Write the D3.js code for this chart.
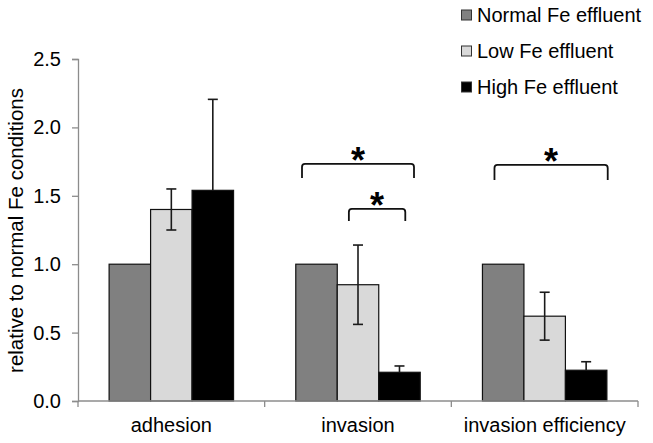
<!DOCTYPE html>
<html>
<head>
<meta charset="utf-8">
<script src="https://cdn.jsdelivr.net/npm/d3@7/dist/d3.min.js"></script>
<style>
  html, body { margin: 0; padding: 0; background: #fff; }
  svg { display: block; font-family: "Liberation Sans", Arial, sans-serif; }
</style>
</head>
<body>
<svg id="chart" width="653" height="443"></svg>
<script>
// ---- data ----
const categories = ["adhesion", "invasion", "invasion efficiency"];
const seriesNames = ["Normal Fe effluent", "Low Fe effluent", "High Fe effluent"];
const normalValues = [1.0, 1.0, 1.0];
const lowValues = [1.40, 0.85, 0.62];
const highValues = [1.54, 0.21, 0.225];
const normalErrors = [0, 0, 0];
const lowErrors = [0.15, 0.29, 0.175];
const highErrors = [0.665, 0.046, 0.062];
const yTicks = [0, 0.5, 1.0, 1.5, 2.0, 2.5];
const yTitle = "relative to normal Fe conditions";
// significance brackets: category, from/to series, bracket level, leg length (data units)
const sigCats = ["invasion", "invasion", "invasion efficiency"];
const sigFrom = ["Normal Fe effluent", "Low Fe effluent", "Normal Fe effluent"];
const sigTo = ["High Fe effluent", "High Fe effluent", "High Fe effluent"];
const sigLevel = [1.733, 1.404, 1.726];
const sigLeg = [0.103, 0.088, 0.11];
const sigLabel = ["*", "*", "*"];

// ---- styles ----
const colors = ["#808080", "#d9d9d9", "#000000"];
const axisColor = "#8c8c8c";

const svg = d3.select("#chart");
const plotLeft = 78, plotRight = 638, plotTop = 59, plotBottom = 401;

const x = d3.scaleBand().domain(categories).range([plotLeft, plotRight]).paddingInner(0).paddingOuter(0);
const xs = d3.scaleBand().domain(seriesNames).range([0, x.bandwidth()]).paddingInner(0).paddingOuter(0.75);
const y = d3.scaleLinear().domain([0, 2.5]).range([plotBottom, plotTop]);

const valuesBySeries = [normalValues, lowValues, highValues];
const errorsBySeries = [normalErrors, lowErrors, highErrors];

const data = [];
categories.forEach((c, ci) => {
  seriesNames.forEach((s, si) => {
    data.push({cat: c, series: s, si, value: valuesBySeries[si][ci], err: errorsBySeries[si][ci]});
  });
});

// bars
svg.append("g").selectAll("rect").data(data).join("rect")
  .attr("x", d => x(d.cat) + xs(d.series))
  .attr("y", d => y(d.value))
  .attr("width", xs.bandwidth())
  .attr("height", d => y(0) - y(d.value))
  .attr("fill", d => colors[d.si])
  .attr("stroke", "#111")
  .attr("stroke-width", 1.2);

// y axis
const yAxis = d3.axisLeft(y).tickValues(yTicks).tickFormat(d3.format(".1f")).tickSize(6).tickPadding(11);
const gy = svg.append("g").attr("transform", `translate(${plotLeft},0)`).call(yAxis);
gy.select(".domain").attr("stroke", axisColor).attr("stroke-width", 1.3);
gy.selectAll(".tick line").attr("stroke", axisColor).attr("stroke-width", 1.3);
gy.selectAll(".tick text").attr("font-size", 20).attr("fill", "#000")
  .attr("font-family", "Liberation Sans, Arial, sans-serif");

// x axis (boundary ticks)
const boundaries = categories.map(c => x(c)).concat([x(categories[categories.length - 1]) + x.bandwidth()]);
const gx = svg.append("g");
gx.append("line").attr("x1", plotLeft).attr("x2", plotRight).attr("y1", y(0)).attr("y2", y(0))
  .attr("stroke", axisColor).attr("stroke-width", 1.3);
gx.selectAll("line.bt").data(boundaries).join("line").attr("class", "bt")
  .attr("x1", d => d).attr("x2", d => d).attr("y1", y(0)).attr("y2", y(0) + 6)
  .attr("stroke", axisColor).attr("stroke-width", 1.3);
gx.selectAll("text").data(categories).join("text")
  .attr("x", d => x(d) + x.bandwidth() / 2)
  .attr("y", y(0) + 31)
  .attr("text-anchor", "middle")
  .attr("font-size", 20)
  .attr("fill", "#000")
  .text(d => d);

// error bars (the lower whisker of a black bar disappears inside the bar)
const errData = data.filter(d => d.err > 0);
const eg = svg.append("g").attr("stroke", "#1a1a1a").attr("stroke-width", 1.6);
errData.forEach(d => {
  const cx = x(d.cat) + xs(d.series) + xs.bandwidth() / 2;
  const top = y(d.value + d.err), mid = y(d.value), bot = y(d.value - d.err);
  const lowerColor = colors[d.si] === "#000000" ? "#000000" : "#1a1a1a";
  eg.append("line").attr("x1", cx).attr("x2", cx).attr("y1", top).attr("y2", mid);
  eg.append("line").attr("x1", cx - 5).attr("x2", cx + 5).attr("y1", top).attr("y2", top);
  if (colors[d.si] !== "#000000") {
    eg.append("line").attr("x1", cx).attr("x2", cx).attr("y1", mid).attr("y2", bot).attr("stroke", lowerColor);
    eg.append("line").attr("x1", cx - 5).attr("x2", cx + 5).attr("y1", bot).attr("y2", bot).attr("stroke", lowerColor);
  }
});

// significance brackets
const fromFrac = [0.15, 0.28, 0.29];
const toFrac = [0.85, 0.64, 1.02];
const sg = svg.append("g");
sigCats.forEach((c, i) => {
  const x1 = x(c) + xs(sigFrom[i]) + fromFrac[i] * xs.bandwidth();
  const x2 = x(c) + xs(sigTo[i]) + toFrac[i] * xs.bandwidth();
  const yt = y(sigLevel[i]), yb = y(sigLevel[i] - sigLeg[i]);
  sg.append("path")
    .attr("d", `M${x1},${yb} L${x1},${yt + 3} Q${x1},${yt} ${x1 + 3},${yt} L${x2 - 3},${yt} Q${x2},${yt} ${x2},${yt + 3} L${x2},${yb}`)
    .attr("fill", "none").attr("stroke", "#111").attr("stroke-width", 1.8);
  sg.append("text")
    .attr("x", (x1 + x2) / 2)
    .attr("y", yt + 9)
    .attr("text-anchor", "middle")
    .attr("font-size", 36)
    .attr("font-weight", "bold")
    .attr("fill", "#000")
    .text(sigLabel[i]);
});

// y title
svg.append("text")
  .attr("transform", `translate(23, ${(plotTop + plotBottom) / 2 + 0.5}) rotate(-90)`)
  .attr("text-anchor", "middle")
  .attr("font-size", 20.5)
  .attr("fill", "#000")
  .text(yTitle);

// legend
const lg = svg.append("g");
seriesNames.forEach((s, i) => {
  const cy = 15 + i * 36;
  lg.append("rect").attr("x", 461.5).attr("y", cy - 5).attr("width", 10).attr("height", 10)
    .attr("fill", colors[i]).attr("stroke", "#333").attr("stroke-width", 1);
  lg.append("text").attr("x", 477).attr("y", cy + 7).attr("font-size", 20).attr("fill", "#000").text(s);
});
</script>
</body>
</html>
